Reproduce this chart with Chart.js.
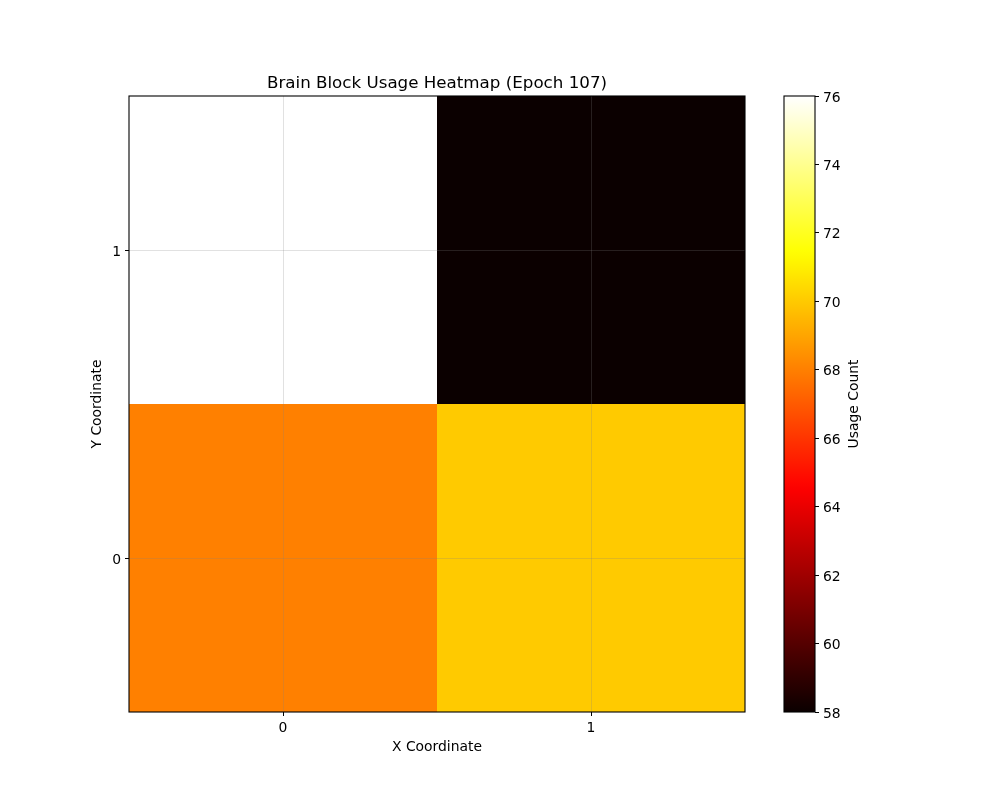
<!DOCTYPE html>
<html>
<head>
<meta charset="utf-8">
<script src="https://cdn.jsdelivr.net/npm/chart.js@4"></script>
<style>
html,body{margin:0;padding:0;background:#fff;}
#wrap{position:relative;width:1000px;height:800px;}
#wrap canvas{position:absolute;left:0;top:0;}
</style>
</head>
<body>
<div id="wrap">
<canvas id="main" width="1000" height="800"></canvas>
<canvas id="cbar" width="1000" height="800"></canvas>
</div>
<script>
// ---- data ----
const xCategories = [0, 1];
const yCategories = [0, 1];
// usage[row y][col x]
const usageRow0 = [68, 70];   // y = 0
const usageRow1 = [76, 58];   // y = 1
const colorMin = 58;
const colorMax = 76;
const colorbarTicks = [58, 60, 62, 64, 66, 68, 70, 72, 74, 76];
const titleText = 'Brain Block Usage Heatmap (Epoch 107)';
const xLabel = 'X Coordinate';
const yLabel = 'Y Coordinate';
const cbLabel = 'Usage Count';

const usageRows = [usageRow0, usageRow1];
const FONT = 'DejaVu Sans';
const FS = 13.9;

// matplotlib "hot" colormap
function hotRGB(t) {
  t = Math.max(0, Math.min(1, t));
  const r0 = 0.0416;
  let r = t < 0.365079 ? r0 + (1 - r0) * t / 0.365079 : 1;
  let g = t < 0.365079 ? 0 : (t < 0.746032 ? (t - 0.365079) / (0.746032 - 0.365079) : 1);
  let b = t < 0.746032 ? 0 : (t - 0.746032) / (1 - 0.746032);
  return `rgb(${Math.round(r*255)},${Math.round(g*255)},${Math.round(b*255)})`;
}
function colorFor(v) { return hotRGB((v - colorMin) / (colorMax - colorMin)); }

const cells = [];
yCategories.forEach((yv, yi) => xCategories.forEach((xv, xi) => cells.push({x: xv, y: yv, v: usageRows[yi][xi]})));

const heatPlugin = {
  id: 'heat',
  beforeDraw(chart) {
    const {ctx} = chart;
    const xs = chart.scales.x, ys = chart.scales.y;
    ctx.save();
    cells.forEach(c => {
      const x0 = xs.getPixelForValue(c.x - 0.5), x1 = xs.getPixelForValue(c.x + 0.5);
      const y0 = ys.getPixelForValue(c.y + 0.5), y1 = ys.getPixelForValue(c.y - 0.5);
      ctx.fillStyle = colorFor(c.v);
      ctx.fillRect(x0, y0, x1 - x0, y1 - y0);
    });
    ctx.restore();
  },
  afterDraw(chart) {
    const {ctx, chartArea: a} = chart;
    ctx.save();
    ctx.strokeStyle = '#000';
    ctx.lineWidth = 1.1;
    ctx.strokeRect(a.left, a.top, a.right - a.left, a.bottom - a.top);
    ctx.restore();
  }
};

new Chart(document.getElementById('main'), {
  type: 'scatter',
  data: { datasets: [{ data: [], showLine: false }] },
  plugins: [heatPlugin],
  options: {
    responsive: false,
    animation: false,
    devicePixelRatio: 1,
    layout: { padding: { left: 0, top: 0, right: 255, bottom: 0 } },
    plugins: {
      legend: { display: false },
      tooltip: { enabled: false },
      title: {
        display: true, text: titleText, fullSize: false,
        color: '#000', font: { family: FONT, size: 16.7, weight: 'normal' },
        padding: { top: 74, bottom: 1.96 }
      }
    },
    scales: {
      x: {
        type: 'linear', min: -0.5, max: 1.5,
        afterBuildTicks: s => { s.ticks = xCategories.map(v => ({value: v})); },
        afterFit: s => { s.height = 88; },
        grid: { color: 'rgba(128,128,128,0.3)', lineWidth: 0.8, tickColor: '#000', tickLength: 4, tickWidth: 1 },
        border: { display: false },
        ticks: { color: '#000', font: { family: FONT, size: FS }, padding: 4, maxRotation: 0 },
        title: { display: true, text: xLabel, color: '#000', font: { family: FONT, size: FS }, padding: { bottom: 44.5, top: 0 } }
      },
      y: {
        type: 'linear', min: -0.5, max: 1.5,
        afterBuildTicks: s => { s.ticks = yCategories.map(v => ({value: v})); },
        afterFit: s => { s.width = 129; },
        grid: { color: 'rgba(128,128,128,0.3)', lineWidth: 0.8, tickColor: '#000', tickLength: 4, tickWidth: 1 },
        border: { display: false },
        ticks: { color: '#000', font: { family: FONT, size: FS }, padding: 4, labelOffset: 2 },
        title: { display: true, text: yLabel, color: '#000', font: { family: FONT, size: FS }, padding: { top: 89.5, bottom: 0 } }
      }
    }
  }
});

// ---- colorbar ----
const cbPlugin = {
  id: 'cb',
  beforeDraw(chart) {
    const {ctx, chartArea: a} = chart;
    const ys = chart.scales.y;
    const pTop = ys.getPixelForValue(colorMax), pBot = ys.getPixelForValue(colorMin);
    const grad = ctx.createLinearGradient(0, pBot, 0, pTop);
    const steps = 64;
    for (let i = 0; i <= steps; i++) {
      grad.addColorStop(i / steps, colorFor(colorMin + (colorMax - colorMin) * i / steps));
    }
    ctx.save();
    ctx.fillStyle = grad;
    ctx.fillRect(a.left, pTop, a.right - a.left, pBot - pTop);
    ctx.restore();
  },
  afterDraw(chart) {
    const {ctx, chartArea: a} = chart;
    ctx.save();
    ctx.strokeStyle = '#000';
    ctx.lineWidth = 1.1;
    ctx.strokeRect(a.left, a.top, a.right - a.left, a.bottom - a.top);
    ctx.fillStyle = '#000';
    ctx.font = `${FS}px "${FONT}"`;
    ctx.textAlign = 'center';
    ctx.textBaseline = 'middle';
    ctx.translate(854, (a.top + a.bottom) / 2);
    ctx.rotate(-Math.PI / 2);
    ctx.fillText(cbLabel, 0, 0);
    ctx.restore();
  }
};

new Chart(document.getElementById('cbar'), {
  type: 'scatter',
  data: { datasets: [{ data: [] }] },
  plugins: [cbPlugin],
  options: {
    responsive: false,
    animation: false,
    devicePixelRatio: 1,
    layout: { padding: { left: 784, top: 96, right: 125, bottom: 88 } },
    plugins: { legend: { display: false }, tooltip: { enabled: false } },
    scales: {
      x: { type: 'linear', display: false, min: 0, max: 1 },
      y: {
        type: 'linear', position: 'right', min: colorMin, max: colorMax,
        afterBuildTicks: s => { s.ticks = colorbarTicks.map(v => ({value: v})); },
        afterFit: s => { s.width = 60; },
        grid: { drawOnChartArea: false, tickColor: '#000', tickLength: 4, tickWidth: 1 },
        border: { display: false },
        ticks: { color: '#000', font: { family: FONT, size: FS }, padding: 4, labelOffset: 2 }
      }
    }
  }
});
</script>
</body>
</html>
